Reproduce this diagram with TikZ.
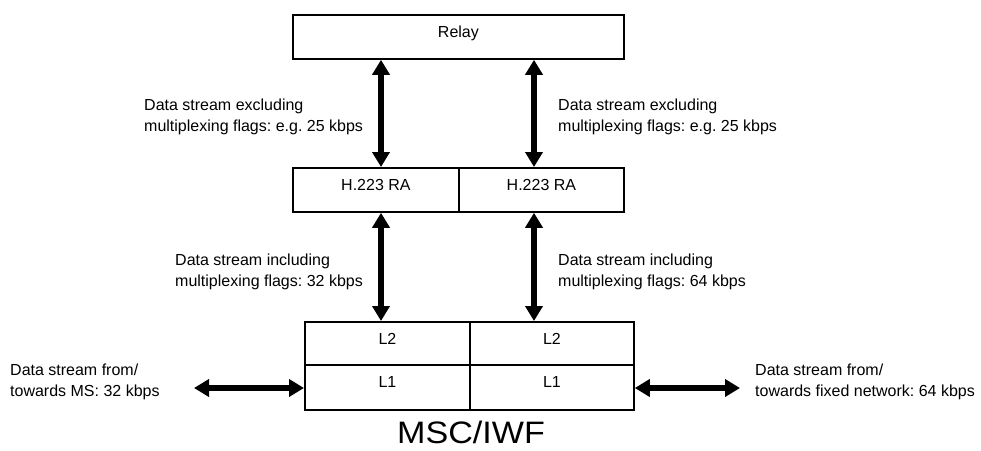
\documentclass[tikz,border=0pt]{standalone}
\usepackage{fontspec}
\setmainfont{Liberation Sans}
\usetikzlibrary{arrows.meta,positioning,calc}

\tikzset{
  layer/.style={draw,line width=1.8pt,inner sep=0pt,anchor=north west},
  flow/.style={line width=6pt,{Triangle[length=15pt,width=17pt]}-{Triangle[length=15pt,width=17pt]}},
  note/.style={align=left,anchor=west,inner sep=0pt,font=\fontsize{16}{20.5}\selectfont}
}

\begin{document}
\frenchspacing
\begin{tikzpicture}[x=1pt,y=-1pt,font=\fontsize{16}{19}\selectfont]
\useasboundingbox (0,0) rectangle (981,450);
% boxes
\node[layer,minimum width=331pt,minimum height=44pt] (relay) at (292,14){};
\node[layer,minimum width=166pt,minimum height=44pt] (raL) at (292,167){};
\node[layer,minimum width=165pt,minimum height=44pt] (raR) at (458,167){};
\node[layer,minimum width=165pt,minimum height=43pt] (ltwoL) at (304,321){};
\node[layer,minimum width=164pt,minimum height=43pt] (ltwoR) at (469,321){};
\node[layer,minimum width=165pt,minimum height=45pt] (loneL) at (304,364){};
\node[layer,minimum width=164pt,minimum height=45pt] (loneR) at (469,364){};
\foreach \b/\t in {relay/Relay,raL/H.223 RA,raR/H.223 RA,ltwoL/L2,ltwoR/L2,loneL/L1,loneR/L1}
  {\node[anchor=base,inner sep=0pt,yshift=-23.5pt] at (\b.north){\t};}
% connectors
\coordinate (aL) at (381,0);
\coordinate (aR) at (534,0);
\coordinate (msEnd) at (194,388);
\coordinate (fixEnd) at (740,388);
\draw[flow] (relay.south -| aL) -- (raL.north -| aL);
\draw[flow] (relay.south -| aR) -- (raR.north -| aR);
\draw[flow] (raL.south -| aL) -- (ltwoL.north -| aL);
\draw[flow] (raR.south -| aR) -- (ltwoR.north -| aR);
\draw[flow] (msEnd) -- (msEnd -| loneL.west);
\draw[flow] (msEnd -| loneR.east) -- (fixEnd);
% labels
\node[note] (exclL) at (144,117){Data stream excluding\\multiplexing flags: e.g. 25 kbps};
\node[note] (exclR) at (558,117){Data stream excluding\\multiplexing flags: e.g. 25 kbps};
\node[note] (inclL) at (175,272){Data stream including\\multiplexing flags: 32 kbps};
\node[note] (inclR) at (558,272){Data stream including\\multiplexing flags: 64 kbps};
\node[note] (msLbl) at (10,382){Data stream from/\\towards MS: 32 kbps};
\node[note] (fixLbl) at (755,382){Data stream from/\\towards fixed network: 64 kbps};
\node[font=\fontsize{31}{36}\selectfont,inner sep=0pt,anchor=base,xscale=1.1] (iwf) at (471,443){MSC/IWF};
\end{tikzpicture}
\end{document}
